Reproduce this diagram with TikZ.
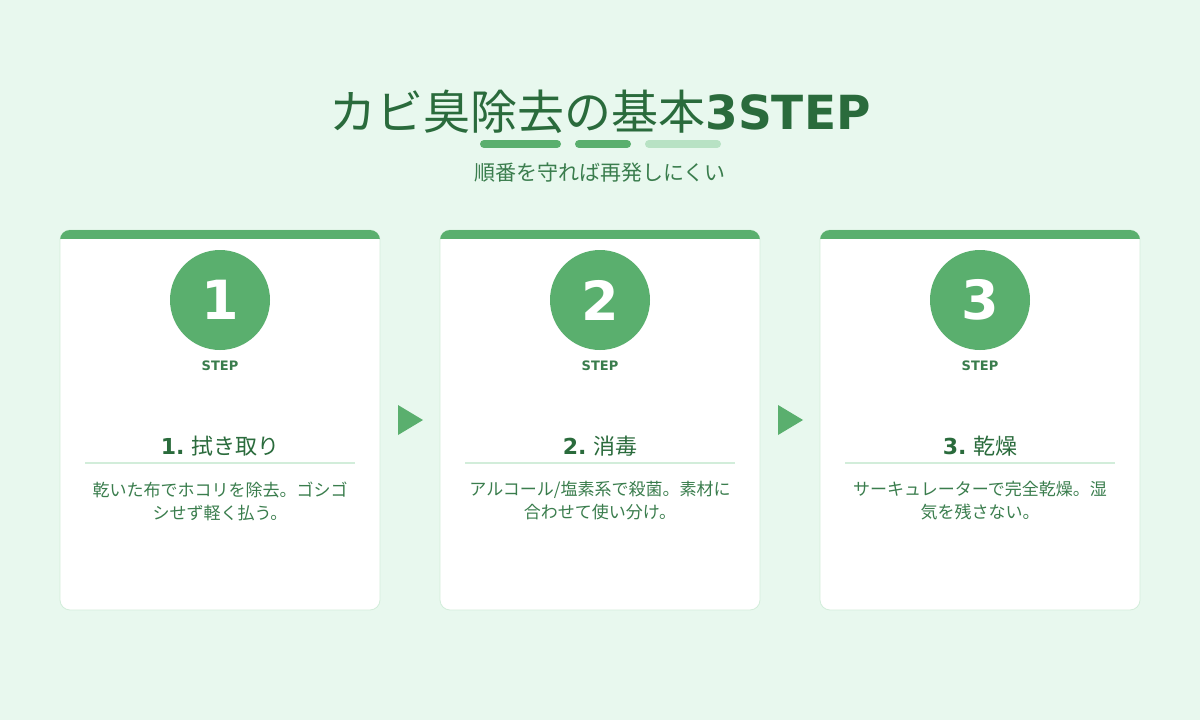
\documentclass[tikz,border=0pt]{standalone}
\usepackage{fontspec}
\setmainfont{Noto Sans CJK JP}
\newfontfamily\dv{DejaVu Sans}
\definecolor{bg}{HTML}{E8F8EE}
\definecolor{gr}{HTML}{5AAF6E}
\definecolor{dk}{HTML}{2A6B3C}
\definecolor{tx}{HTML}{3A7D4D}
\definecolor{lt}{HTML}{B8E2C4}
\definecolor{bd}{HTML}{D2EDDA}
\tikzset{
 card/.style={draw=bd,fill=white,rounded corners=10pt,line width=0.8pt},
 num/.style={circle,fill=gr,minimum size=100pt,inner sep=0,text=white,font=\dv\bfseries\fontsize{54}{54}\selectfont},
 steplbl/.style={text=tx,font=\dv\bfseries\fontsize{13}{13}\selectfont},
 head/.style={text=dk,font=\fontsize{22}{22}\selectfont},
 body/.style={text=tx,align=center,font=\fontsize{17}{23}\selectfont},
 arr/.style={fill=gr,draw=none}
}
\begin{document}
\begin{tikzpicture}[x=1pt,y=-1pt]
\fill[bg] (0,0) rectangle (1200,720);
\useasboundingbox (0,0) rectangle (1200,720);
\node[text=dk,inner sep=0,anchor=base] (title) at (600,129) {\fontsize{47}{47}\selectfont カビ臭除去の基本{\dv\bfseries\fontsize{47}{47}\selectfont 3STEP}};
\draw[gr,line width=8pt,line cap=round] (484,144) -- (557,144);
\draw[gr,line width=8pt,line cap=round] (579,144) -- (627,144);
\draw[lt,line width=8pt,line cap=round] (649,144) -- (717,144);
\node[text=tx,font=\fontsize{21}{21}\selectfont] (sub) at (600,173) {順番を守れば再発しにくい};
\foreach \i/\x/\h/\ba/\bb in {1/60/拭き取り/乾いた布でホコリを除去。ゴシゴ/シせず軽く払う。, 2/440/消毒/{アルコール/塩素系で殺菌。素材に}/合わせて使い分け。, 3/820/乾燥/サーキュレーターで完全乾燥。湿/気を残さない。}{
 \draw[card] (\x,230) rectangle +(320,380);
 \begin{scope}
 \clip[rounded corners=10pt] (\x,230) rectangle +(320,40);
 \fill[gr] (\x,230) rectangle +(320,8.5);
 \end{scope}
 \node[num] (n\i) at (\x+160,300) {\i};
 \node[steplbl] (s\i) at (\x+160,366) {STEP};
 \node[head] (h\i) at (\x+160,446) {{\dv\bfseries\fontsize{22}{22}\selectfont\i.} \h};
 \draw[bd,line width=1.5pt] (\x+25,463) -- (\x+295,463);
 \node[body] (b\i) at (\x+160,501) {\ba\\\bb};
}
\fill[arr] (398,405) -- (423,420) -- (398,435) -- cycle;
\fill[arr] (778,405) -- (803,420) -- (778,435) -- cycle;
\end{tikzpicture}
\end{document}
